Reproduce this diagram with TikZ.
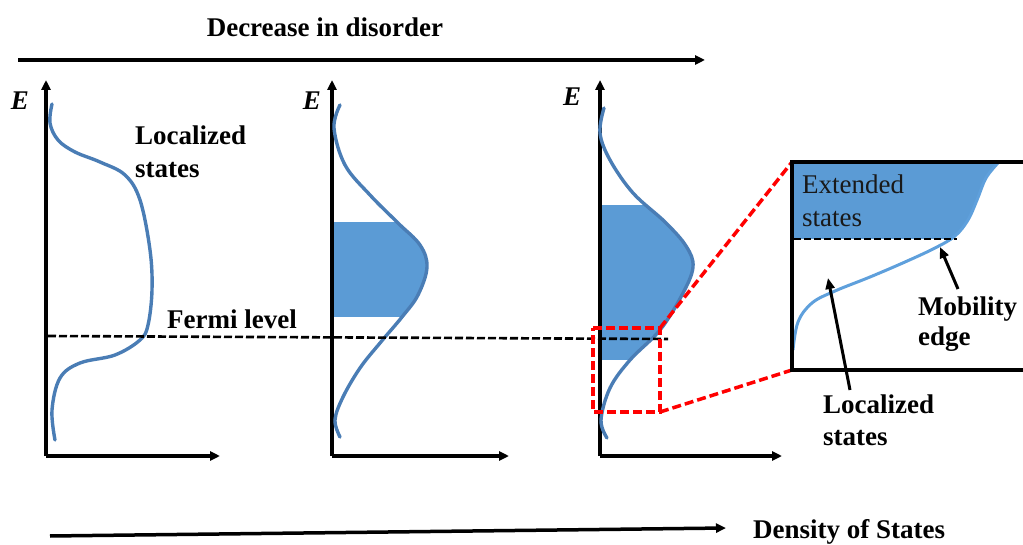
\documentclass[tikz,border=0pt]{standalone}
\usepackage{fontspec}
\setmainfont{Liberation Serif}
\usetikzlibrary{arrows.meta}
\definecolor{curveblue}{HTML}{4A7DB5}
\definecolor{fillblue}{HTML}{5B9BD5}
\definecolor{lightcurve}{HTML}{5FA0DC}
\tikzset{
  axis/.style={line width=3.5pt,-{Triangle[length=10pt,width=9pt]}},
  dos/.style={line width=3.4pt,curveblue,line cap=round},
  lbl/.style={inner sep=0pt,anchor=north west,align=left,font=\fontsize{27}{33}\selectfont\bfseries},
  elbl/.style={inner sep=0pt,font=\fontsize{27}{30}\selectfont\bfseries\itshape},
  fermi/.style={line width=2.6pt,dash pattern=on 8pt off 3pt},
  reddash/.style={red,line width=3.5pt,dash pattern=on 9pt off 4pt},
  pointer/.style={line width=3pt,-{Triangle[length=11pt,width=9pt]}},
}
\begin{document}
\begin{tikzpicture}[x=1pt,y=-1pt]
\useasboundingbox (0,0) rectangle (1023,545);

% top arrow and title
\node[inner sep=0pt,font=\fontsize{27}{33}\selectfont\bfseries] (title) at (325,27) {Decrease in disorder};
\coordinate (ta1) at (18,60);
\coordinate (ta2) at (705,60);
\draw[axis] (ta1) -- (ta2);

% ---------- left graph ----------
\coordinate (o1) at (46,456);
\coordinate (y1) at (46,80);
\coordinate (x1) at (220,456);
\draw[axis] (o1) -- (y1);
\draw[axis] (o1) -- (x1);
\node[elbl] (E1) at (20,101) {E};
\draw[dos] plot[smooth,tension=0.6] coordinates {(52,104) (50,123) (58,140) (75,152) (100,162) (125,175) (140,200) (150,250) (152,290) (148,325) (140,340) (115,355) (80,363) (60,378) (52,410) (55,440)};
\node[lbl] (loc1) at (135,126) {Localized\\states};

% ---------- middle graph ----------
\coordinate (o2) at (332,456);
\coordinate (y2) at (332,80);
\coordinate (x2) at (509,456);
\begin{scope}
\clip (333,223) rectangle (500,317);
\fill[fillblue] plot[smooth,tension=0.6] coordinates {(340,105) (334,128) (345,165) (370,195) (398,223) (420,245) (427,267) (418,295) (402,317) (380,343) (360,368) (343,397) (335,420) (340,437)} -- (333,437) -- (333,105) -- cycle;
\end{scope}
\draw[axis] (o2) -- (y2);
\draw[axis] (o2) -- (x2);
\node[elbl] (E2) at (312,101) {E};
\draw[dos] plot[smooth,tension=0.6] coordinates {(340,105) (334,128) (345,165) (370,195) (398,223) (420,245) (427,267) (418,295) (402,317) (380,343) (360,368) (343,397) (335,420) (340,437)};

% ---------- right graph ----------
\coordinate (o3) at (600,456);
\coordinate (y3) at (600,80);
\coordinate (x3) at (782,456);
\begin{scope}
\clip (601,206) rectangle (760,360);
\fill[fillblue] plot[smooth,tension=0.6] coordinates {(604,108) (600,133) (610,160) (633,193) (665,222) (686,246) (693,267) (682,295) (660,330) (630,360) (610,388) (601,420) (607,438)} -- (601,438) -- (601,108) -- cycle;
\end{scope}
\draw[axis] (o3) -- (y3);
\draw[axis] (o3) -- (x3);
\node[elbl] (E3) at (572,97) {E};
\draw[dos] plot[smooth,tension=0.6] coordinates {(604,108) (600,133) (610,160) (633,193) (665,222) (686,246) (693,267) (682,295) (660,330) (630,360) (610,388) (601,420) (607,438)};

% Fermi level
\coordinate (f1) at (48,336);
\coordinate (f2) at (668,339);
\draw[fermi] (f1) -- (f2);
\node[lbl] (fermi) at (167,310) {Fermi level};

% zoom box
\coordinate (sbtl) at (593,328);
\coordinate (sbtr) at (660,328);
\coordinate (sbbr) at (660,412);
\coordinate (sbbl) at (593,412);
\draw[reddash] (sbtl) -- (sbtr) -- (sbbr) -- (sbbl) -- cycle;

\coordinate (bbtl) at (792,162);
\coordinate (bbbl) at (792,370);
\coordinate (bbtr) at (1023,162);
\coordinate (bbbr) at (1023,370);
\draw[reddash] (sbtr) -- (bbtl);
\draw[reddash] (sbbr) -- (bbbl);

\begin{scope}
\clip (792,162) rectangle (1023,239);
\fill[fillblue] plot[smooth,tension=0.6] coordinates {(793,350) (798,322) (812,303) (835,291) (870,277) (905,262) (935,248) (955,236) (968,220) (977,200) (986,178) (998,163) (1005,158)} -- (792,158) -- cycle;
\end{scope}
\draw[lightcurve,line width=3pt] plot[smooth,tension=0.6] coordinates {(793,350) (798,322) (812,303) (835,291) (870,277) (905,262) (935,248) (955,236) (968,220) (977,200) (986,178) (998,163)};
\coordinate (me1) at (794,239);
\coordinate (me2) at (957,239);
\draw[line width=2.5pt,dash pattern=on 7pt off 3pt] (me1) -- (me2);
\draw[line width=3.5pt] (bbtr) -- (bbtl) -- (bbbl) -- (bbbr);

\node[lbl,font=\fontsize{27}{33}\selectfont,text=black!90] (ext) at (802,175) {Extended\\states};
\node[lbl,font=\fontsize{27}{30}\selectfont\bfseries] (mob) at (918,297) {Mobility\\edge};
\node[lbl,font=\fontsize{27}{32}\selectfont\bfseries] (loc2) at (823,395) {Localized\\states};

\coordinate (mobtip) at (940,247);
\coordinate (mobstart) at (958,289);
\draw[pointer] (mobstart) -- (mobtip);
\coordinate (loctip) at (828,278);
\coordinate (locstart) at (850,390);
\draw[pointer] (locstart) -- (loctip);

% bottom arrow
\coordinate (ba1) at (50,536);
\coordinate (ba2) at (726,528);
\draw[axis] (ba1) -- (ba2);
\node[lbl] (dos) at (753,519) {Density of States};
\end{tikzpicture}
\end{document}
